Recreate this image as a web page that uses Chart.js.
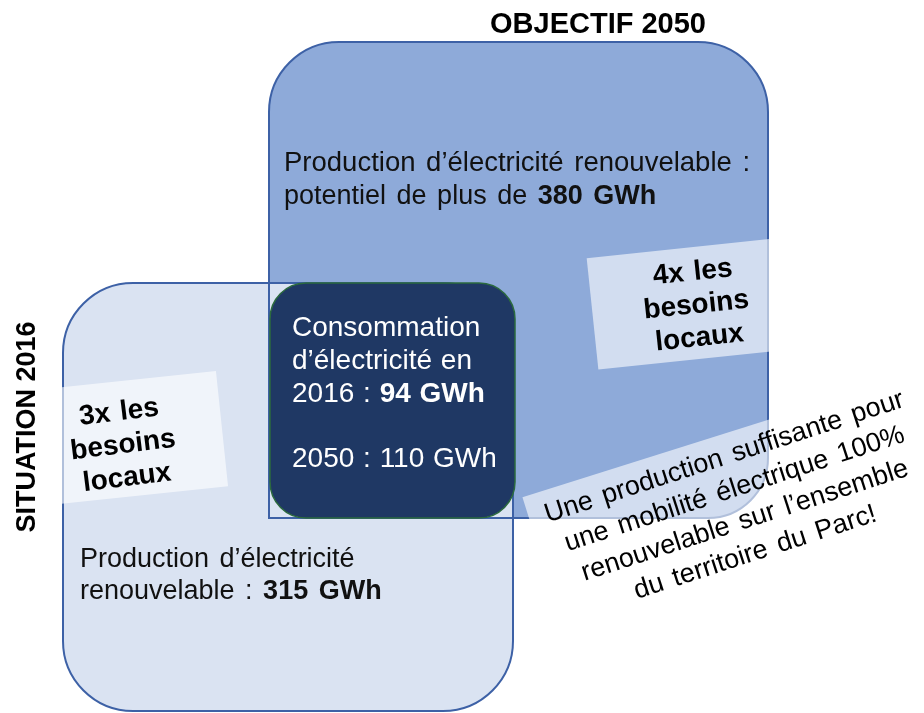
<!DOCTYPE html>
<html>
<head>
<meta charset="utf-8">
<script src="https://cdn.jsdelivr.net/npm/chart.js@4/dist/chart.umd.min.js"></script>
<style>
  html, body { margin: 0; padding: 0; background: #ffffff; overflow: hidden; }
  #wrap { width: 924px; height: 713px; position: relative; }
</style>
</head>
<body>
<div id="wrap"><canvas id="c"></canvas></div>
<script>
// ---------- data ----------
const periodTitles   = ['SITUATION 2016', 'OBJECTIF 2050'];
const periodYears    = ['2016', '2050'];
const productionGWh  = [315, 380];
const consumptionGWh = [94, 110];
const coverageFactor = [3, 4];
const mobilityNote   = ['Une production suffisante pour', 'une mobilité électrique 100%',
                        'renouvelable sur l’ensemble', 'du territoire du Parc!'];

// ---------- layout (scale units) ----------
const layoutBoxes = {
  objectif:  { x0: 269, y0: 42,  x1: 768, y1: 518, r: [70, 70, 60, 0],  fill: '#8eaad9', stroke: '#3d61a6', lw: 2 },
  situation: { x0: 63,  y0: 283, x1: 513, y1: 711, r: [70, 70, 70, 70], fill: '#dae3f2', stroke: '#3d61a6', lw: 2 },
  conso:     { x0: 270, y0: 283, x1: 515, y1: 518, r: 36,               fill: '#1f3864', stroke: '#2b6a3e', lw: 1.5 }
};
const FONT = '"Liberation Sans", Arial, Helvetica, sans-serif';

function layoutRich(ctx, segs, size, extra) {
  const items = []; let w = 0;
  for (const s of segs) {
    ctx.font = (s.b ? 'bold ' : '') + size + 'px ' + FONT;
    for (const p of s.t.split(/( )/)) {
      if (!p) continue;
      let pw = ctx.measureText(p).width;
      if (p === ' ') pw += extra;
      items.push({ p, b: s.b, x: w });
      w += pw;
    }
  }
  return { items, w };
}
function drawRich(ctx, segs, x, y, size, extra, align, color) {
  const { items, w } = layoutRich(ctx, segs, size, extra);
  const x0 = align === 'center' ? x - w / 2 : x;
  ctx.fillStyle = color; ctx.textAlign = 'left'; ctx.textBaseline = 'alphabetic';
  for (const it of items) {
    if (it.p === ' ') continue;
    ctx.font = (it.b ? 'bold ' : '') + size + 'px ' + FONT;
    ctx.fillText(it.p, x0 + it.x, y);
  }
}

const diagramPlugin = {
  id: 'diagram',
  afterDraw(chart) {
    const ctx = chart.ctx;
    const X = v => chart.scales.x.getPixelForValue(v);
    const Y = v => chart.scales.y.getPixelForValue(v);
    const rr = (b) => { ctx.beginPath(); ctx.roundRect(X(b.x0), Y(b.y0), X(b.x1) - X(b.x0), Y(b.y1) - Y(b.y0), b.r); };

    const big = layoutBoxes.objectif, light = layoutBoxes.situation, dark = layoutBoxes.conso;
    ctx.save();
    rr(big);   ctx.fillStyle = big.fill; ctx.fill();
    rr(light); ctx.fillStyle = light.fill; ctx.fill();
    rr(big);   ctx.strokeStyle = big.stroke; ctx.lineWidth = big.lw; ctx.stroke();
    rr(light); ctx.strokeStyle = light.stroke; ctx.lineWidth = light.lw; ctx.stroke();
    rr(dark);  ctx.fillStyle = dark.fill; ctx.fill();
    ctx.strokeStyle = dark.stroke; ctx.lineWidth = dark.lw; ctx.stroke();

    // translucent label panels
    const panel = (cx, cy, ang, l, t, r, b) => {
      ctx.save(); ctx.translate(X(cx), Y(cy)); ctx.rotate(ang * Math.PI / 180);
      ctx.fillStyle = 'rgba(255,255,255,0.6)'; ctx.fillRect(l, t, r - l, b - t);
      ctx.restore();
    };
    panel(697, 313, -6, -104, -66, 108, 46);
    panel(124, 453, -6, -120, -72, 100, 44);
    panel(742, 512, -17.5, -205, -80, 215, 82);

    // titles
    ctx.fillStyle = '#000';
    ctx.font = 'bold 29px ' + FONT; ctx.textAlign = 'center'; ctx.textBaseline = 'alphabetic';
    ctx.fillText(periodTitles[1], X(598), Y(33));
    ctx.save(); ctx.translate(X(35), Y(427)); ctx.rotate(-Math.PI / 2);
    ctx.font = 'bold 27px ' + FONT; ctx.fillText(periodTitles[0], 0, 0); ctx.restore();

    // big box text
    drawRich(ctx, [{ t: 'Production d’électricité renouvelable :', b: false }], X(284), Y(171), 27.5, 3, 'left', '#111');
    drawRich(ctx, [{ t: 'potentiel de plus de ', b: false }, { t: productionGWh[1] + ' GWh', b: true }], X(284), Y(204), 27, 3, 'left', '#111');

    // dark box text
    drawRich(ctx, [{ t: 'Consommation', b: false }], X(292), Y(336), 28, 1, 'left', '#fff');
    drawRich(ctx, [{ t: 'd’électricité en', b: false }], X(292), Y(369), 28, 1, 'left', '#fff');
    drawRich(ctx, [{ t: periodYears[0] + ' : ', b: false }, { t: consumptionGWh[0] + ' GWh', b: true }], X(292), Y(402), 28, 1, 'left', '#fff');
    drawRich(ctx, [{ t: periodYears[1] + ' : ' + consumptionGWh[1] + ' GWh', b: false }], X(292), Y(467), 28, 1, 'left', '#fff');

    // light box text
    drawRich(ctx, [{ t: 'Production d’électricité', b: false }], X(80), Y(567), 27, 3, 'left', '#111');
    drawRich(ctx, [{ t: 'renouvelable : ', b: false }, { t: productionGWh[0] + ' GWh', b: true }], X(80), Y(599), 27, 3, 'left', '#111');

    // factor labels
    const factorLabel = (cx, cy, ang, f) => {
      ctx.save(); ctx.translate(X(cx), Y(cy)); ctx.rotate(ang * Math.PI / 180);
      const lines = [f + 'x les', 'besoins', 'locaux'];
      lines.forEach((s, i) => drawRich(ctx, [{ t: s, b: true }], 0, (i - 1) * 33, 28, 2, 'center', '#000'));
      ctx.restore();
    };
    factorLabel(697, 313, -6, coverageFactor[1]);
    factorLabel(124, 453, -7, coverageFactor[0]);

    // mobility note
    ctx.save(); ctx.translate(X(742), Y(512)); ctx.rotate(-18 * Math.PI / 180);
    mobilityNote.forEach((s, i) => drawRich(ctx, [{ t: s, b: false }], 0, -50 + i * 33.4, 27, 3, 'center', '#000'));
    ctx.restore();
    ctx.restore();
  }
};

new Chart(document.getElementById('c'), {
  type: 'scatter',
  data: { datasets: [] },
  options: {
    responsive: true, maintainAspectRatio: false, animation: false,
    layout: { padding: 0 },
    plugins: { legend: { display: false }, tooltip: { enabled: false }, title: { display: false } },
    scales: {
      x: { type: 'linear', min: 0, max: 924, display: false },
      y: { type: 'linear', min: 0, max: 713, reverse: true, display: false }
    }
  },
  plugins: [diagramPlugin]
});
</script>
</body>
</html>
